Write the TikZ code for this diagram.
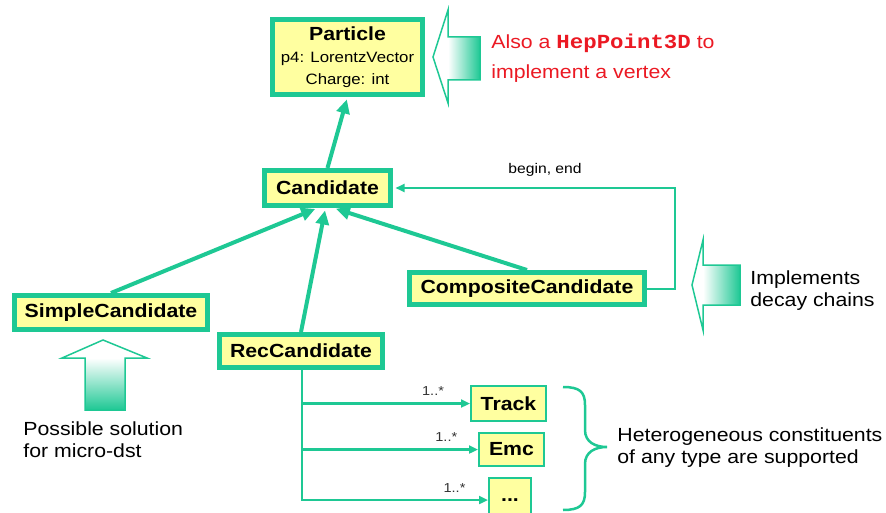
\documentclass[tikz,border=0pt]{standalone}
\usepackage{fontspec}
\setmainfont{Liberation Sans}[FakeStretch=1.12]
\setsansfont{Liberation Sans}[FakeStretch=1.12]
\setmonofont{Liberation Mono}[FakeStretch=1.12]
\usepackage{xcolor}
\usepackage{tikz}
\usetikzlibrary{arrows.meta}
\usetikzlibrary{positioning}
\definecolor{umlgreen}{RGB}{30,200,148}
\definecolor{umlyellow}{RGB}{255,255,160}
\definecolor{notered}{RGB}{235,25,35}
\tikzset{
    classnode/.style = {rectangle, draw=umlgreen, line width=5pt, fill=umlyellow, align=center, inner sep=0pt, font=\bfseries\fontsize{19}{22}\selectfont},
    partnode/.style = {rectangle, draw=umlgreen, line width=2pt, fill=umlyellow, align=center, inner sep=0pt, font=\bfseries\fontsize{19}{22}\selectfont},
    notetext/.style = {anchor=west, align=left, inner sep=0pt, font=\fontsize{19}{22}\selectfont},
    fatarrow/.style = {draw=umlgreen, line width=1.5pt, line join=miter},
}

\begin{document}
\begin{tikzpicture}[
	x=1pt, y=-1pt,
	thick,
	font=\fontsize{19}{22}\selectfont
]
\tikzset{
    edgeinh/.style = {-{Triangle[length=14pt,width=13pt]}, line width=4pt, umlgreen, shorten >=2.5pt},
    edgecomp/.style = {-{Triangle[length=9pt,width=8pt]}, line width=2.5pt, umlgreen},
    edgeassoc/.style = {-{Triangle[length=9pt,width=8pt]}, line width=2pt, umlgreen, shorten >=2.5pt},
    mult/.style = {above=3pt, font=\fontsize{13}{15}\selectfont, text=black!80}
}
\useasboundingbox (0,0) rectangle (886,513);
\node[classnode, minimum width=150pt, minimum height=75pt, font=\mdseries\fontsize{15}{22}\selectfont] at (347.5,57) (particle) {{\bfseries\fontsize{19}{22}\selectfont Particle}\\p4: LorentzVector\\Charge: int};
\node[classnode, minimum width=126pt, minimum height=35pt] at (327.5,188) (cand) {Candidate};
\node[classnode, minimum width=193pt, minimum height=34pt] at (111,312.5) (simple) {SimpleCandidate};
\node[classnode, minimum width=163pt, minimum height=33pt] at (301,351) (rec) {RecCandidate};
\node[classnode, minimum width=235pt, minimum height=32pt] at (527,288.5) (comp) {CompositeCandidate};
\node[partnode, minimum width=75pt, minimum height=35pt] at (508.5,403.5) (track) {Track};
\node[partnode, minimum width=65pt, minimum height=33pt] at (511.5,449.5) (emc) {Emc};
\node[partnode, minimum width=42pt, minimum height=44pt] at (510,500) (more) {...};
%
\draw[edgeinh] (cand.north) -- (particle.south);
\draw[edgeinh] (simple.north) -- ([xshift=-10pt]cand.south);
\draw[edgeinh] (rec.north) -- ([xshift=-2pt]cand.south);
\draw[edgeinh] (comp.north) -- ([xshift=6pt]cand.south);
%
\draw[edgeassoc] (comp.east) -- ++(27.5,0) |- node[pos=0.73, above=7pt, font=\fontsize{14}{16}\selectfont, text=black] {begin, end} (cand.east);
%
\draw[edgecomp] ([xshift=1pt]rec.south) |- node[mult, pos=0.89] {1..*} (track);
\draw[edgecomp] ([xshift=1pt]rec.south) |- node[mult, pos=0.91] {1..*} (emc);
\draw[edgecomp] ([xshift=1pt]rec.south) |- node[mult, pos=0.91] {1..*} (more);
%
\draw[umlgreen, line width=2.5pt] (563,387) .. controls (580,387) and (585,392) .. (585,405) -- (585,430) .. controls (585,442) and (595,447) .. (607,447) .. controls (595,447) and (585,452) .. (585,464) -- (585,492) .. controls (585,505) and (580,510) .. (563,510);
%
\shade[left color=white, right color=umlgreen] (448,37) rectangle (480,80);
\draw[fatarrow] (433,57) -- (448,10) -- (448,37) -- (480,37) -- (480,80) -- (448,80) -- (448,103) -- cycle;
\shade[left color=white, right color=umlgreen] (703,265) rectangle (740,305);
\draw[fatarrow] (692,285) -- (703,240) -- (703,265) -- (740,265) -- (740,305) -- (703,305) -- (703,330) -- cycle;
\shade[top color=white, bottom color=umlgreen] (85,358) rectangle (125,410);
\draw[fatarrow] (103,340) -- (147,358) -- (125,358) -- (125,410) -- (85,410) -- (85,358) -- (62,358) -- cycle;
%
\node[notetext, text=notered, font=\fontsize{19}{30}\selectfont] at (491,58) (vertexnote) {Also a {\ttfamily\bfseries\fontsize{20}{30}\selectfont HepPoint3D} to\\implement a vertex};
\node[notetext] at (750,291) (decaynote) {Implements\\decay chains};
\node[notetext] at (23,440) (microdst) {Possible solution\\for micro-dst};
\node[notetext] at (617,448) (heteronote) {Heterogeneous constituents\\of any type are supported};
\end{tikzpicture}
\end{document}
